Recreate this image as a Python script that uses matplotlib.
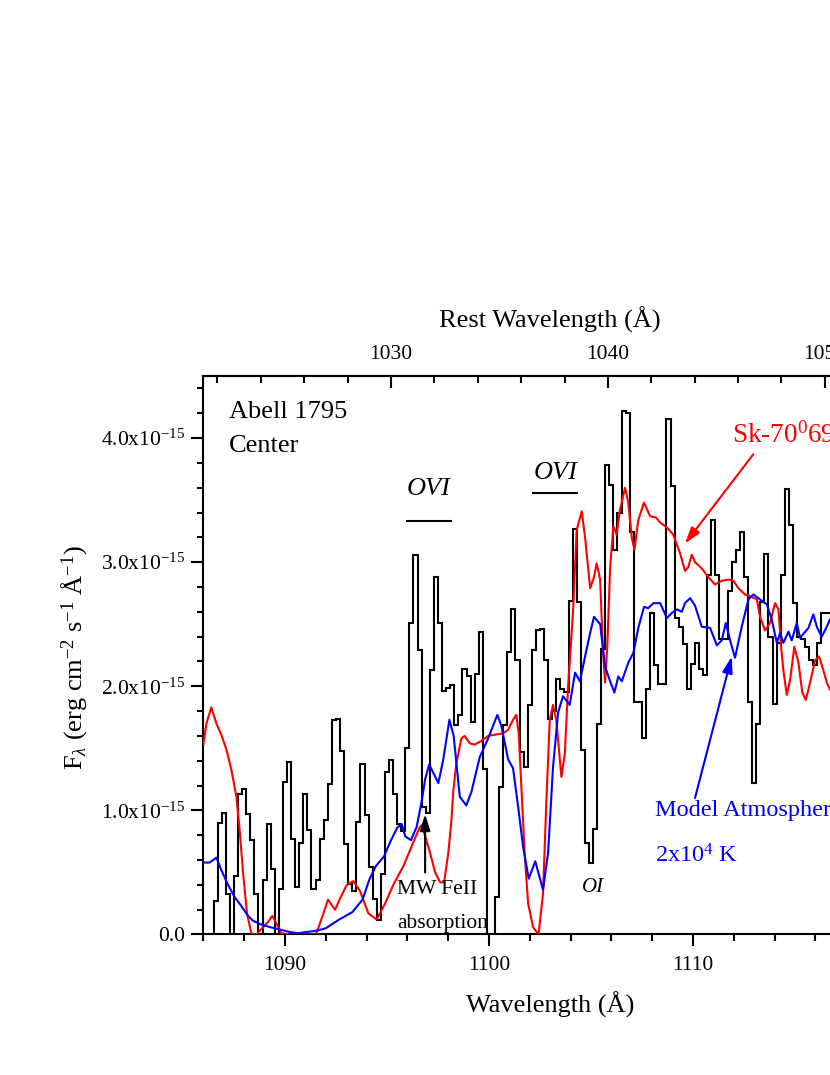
import numpy as np
import matplotlib
matplotlib.use("Agg")
import matplotlib.pyplot as plt
from matplotlib.ticker import MultipleLocator, FuncFormatter

plt.rcParams['font.family'] = ['Liberation Serif', 'DejaVu Serif']
plt.rcParams['mathtext.fontset'] = 'custom'
plt.rcParams['mathtext.rm'] = 'Liberation Serif'
plt.rcParams['mathtext.it'] = 'Liberation Serif:italic'
plt.rcParams['mathtext.bf'] = 'Liberation Serif:bold'

''' Data (flux in units of 1e-15 erg/cm2/s/A) '''
z = 0.0633

# observed FUSE spectrum, 0.2 A bins starting at 1086.1 A
bin_start = 1086.1
bin_width = 0.2
hist_flux = [
    0.00, 0.00, 0.27, 0.90, 0.98, 0.33, 0.00, 0.47, 1.13, 1.17,
    0.97, 0.76, 0.33, 0.00, 0.44, 0.89, 0.53, 0.00, 0.37, 1.23,
    1.39, 0.77, 0.38, 0.74, 1.13, 0.84, 0.37, 0.44, 0.77, 0.92,
    1.21, 1.73, 1.74, 1.48, 0.73, 0.41, 0.35, 0.91, 1.37, 0.96,
    0.54, 0.29, 0.12, 0.49, 1.31, 1.41, 1.13, 0.89, 0.83, 1.50,
    2.51, 3.06, 2.29, 1.03, 0.98, 2.13, 2.88, 2.51, 1.96, 1.99,
    2.01, 1.69, 1.77, 2.14, 2.08, 1.71, 2.10, 2.44, 1.33, 0.00,
    0.00, 0.30, 1.19, 1.69, 2.28, 2.62, 2.21, 1.47, 1.35, 1.85,
    2.29, 2.45, 2.46, 2.21, 1.74, 1.80, 2.06, 1.98, 1.95, 2.69,
    3.27, 2.68, 1.49, 0.74, 0.58, 0.85, 1.70, 2.30, 3.78, 3.62,
    3.10, 3.40, 4.22, 4.20, 3.24, 1.87, 1.87, 1.58, 1.98, 2.59,
    2.17, 2.02, 2.02, 4.15, 3.61, 2.55, 2.48, 2.34, 1.98, 2.18,
    2.35, 2.14, 2.09, 2.90, 3.34, 2.90, 2.38, 2.38, 2.77, 3.00,
    3.10, 3.24, 2.88, 1.87, 1.22, 1.70, 2.68, 3.07, 2.40, 1.86,
    2.35, 2.90, 3.59, 3.30, 2.67, 2.40, 2.38, 2.32, 2.21, 2.17,
    2.35, 2.59, 2.59,
]

# model atmosphere, 2x10^4 K
model_wave = [
    1086.00, 1086.31, 1086.64, 1086.88, 1087.21, 1087.54, 1087.86, 1088.19, 1088.44, 1088.84,
    1089.25, 1089.75, 1090.24, 1090.64, 1091.05, 1091.54, 1092.00, 1092.65, 1093.30, 1093.80,
    1094.13, 1094.45, 1094.86, 1095.20, 1095.50, 1095.72, 1095.90, 1096.18, 1096.46, 1096.71,
    1096.87, 1097.07, 1097.28, 1097.52, 1097.76, 1098.06, 1098.27, 1098.57, 1098.89, 1099.14,
    1099.55, 1099.96, 1100.41, 1100.61, 1100.94, 1101.18, 1101.43, 1101.67, 1101.95, 1102.27,
    1102.65, 1102.90, 1103.14, 1103.39, 1103.63, 1103.96, 1104.22, 1104.46, 1104.71, 1104.96,
    1105.15, 1105.45, 1105.69, 1105.94, 1106.15, 1106.34, 1106.51, 1106.83, 1107.08, 1107.32,
    1107.60, 1107.81, 1108.06, 1108.39, 1108.72, 1108.96, 1109.21, 1109.45, 1109.61, 1109.86,
    1110.10, 1110.43, 1110.84, 1111.17, 1111.41, 1111.61, 1111.82, 1112.06, 1112.39, 1112.72,
    1112.96, 1113.29, 1113.62, 1113.86, 1114.11, 1114.27, 1114.43, 1114.68, 1114.84, 1115.09,
    1115.25, 1115.45, 1115.66, 1115.90, 1116.07, 1116.31, 1116.56, 1116.72, 1117.00,
]
model_flux = [
    0.58, 0.58, 0.62, 0.52, 0.40, 0.30, 0.23, 0.15, 0.11, 0.08,
    0.06, 0.04, 0.02, 0.01, 0.02, 0.03, 0.05, 0.12, 0.18, 0.28,
    0.44, 0.55, 0.63, 0.76, 0.86, 0.89, 0.79, 0.76, 0.87, 1.08,
    1.25, 1.37, 1.30, 1.22, 1.41, 1.73, 1.60, 1.11, 1.04, 1.15,
    1.43, 1.58, 1.77, 1.68, 1.41, 1.34, 1.03, 0.71, 0.45, 0.59,
    0.36, 0.66, 1.35, 1.79, 1.92, 1.85, 2.11, 2.04, 2.24, 2.43,
    2.56, 2.50, 2.16, 2.04, 1.95, 2.08, 2.04, 2.19, 2.27, 2.47,
    2.64, 2.63, 2.67, 2.67, 2.55, 2.59, 2.62, 2.60, 2.67, 2.71,
    2.65, 2.48, 2.47, 2.33, 2.37, 2.51, 2.37, 2.23, 2.48, 2.70,
    2.74, 2.70, 2.66, 2.54, 2.35, 2.43, 2.35, 2.44, 2.37, 2.51,
    2.39, 2.43, 2.47, 2.58, 2.48, 2.40, 2.48, 2.54, 2.55,
]

# Sk-70 69 template star
star_wave = [
    1086.00, 1086.15, 1086.39, 1086.64, 1086.88, 1087.13, 1087.37, 1087.62, 1087.78, 1087.95,
    1088.14, 1088.35, 1088.60, 1088.93, 1089.17, 1089.38, 1089.61, 1089.82, 1090.25, 1091.52,
    1091.78, 1092.11, 1092.46, 1092.70, 1093.03, 1093.35, 1093.68, 1094.09, 1094.50, 1094.91,
    1095.31, 1095.80, 1096.29, 1096.62, 1096.71, 1097.11, 1097.36, 1097.61, 1097.80, 1098.01,
    1098.16, 1098.25, 1098.40, 1098.65, 1098.81, 1099.06, 1099.30, 1099.63, 1099.96, 1100.28,
    1100.69, 1100.94, 1101.18, 1101.34, 1101.46, 1101.59, 1101.75, 1101.92, 1102.16, 1102.43,
    1102.65, 1102.81, 1102.98, 1103.14, 1103.30, 1103.55, 1103.72, 1103.88, 1104.12, 1104.30,
    1104.55, 1104.71, 1104.96, 1105.15, 1105.28, 1105.45, 1105.58, 1105.69, 1105.80, 1105.94,
    1106.10, 1106.26, 1106.42, 1106.67, 1106.83, 1107.00, 1107.13, 1107.32, 1107.60, 1107.90,
    1108.19, 1108.39, 1108.72, 1109.04, 1109.37, 1109.61, 1109.77, 1109.94, 1110.10, 1110.43,
    1110.75, 1111.08, 1111.41, 1111.74, 1111.98, 1112.23, 1112.55, 1112.88, 1113.13, 1113.29,
    1113.53, 1113.78, 1114.02, 1114.19, 1114.32, 1114.43, 1114.60, 1114.76, 1114.97, 1115.17,
    1115.36, 1115.53, 1115.74, 1115.99, 1116.18, 1116.39, 1116.56, 1116.72, 1117.00,
]
star_flux = [
    1.53, 1.70, 1.83, 1.70, 1.61, 1.49, 1.33, 1.11, 0.84, 0.49,
    0.17, 0.01, 0.00, 0.06, 0.10, 0.15, 0.08, 0.01, 0.00, 0.00,
    0.12, 0.28, 0.20, 0.29, 0.40, 0.43, 0.35, 0.17, 0.12, 0.25,
    0.40, 0.55, 0.74, 0.87, 0.88, 0.66, 0.50, 0.42, 0.42, 0.66,
    0.92, 1.15, 1.38, 1.58, 1.60, 1.54, 1.53, 1.56, 1.60, 1.61,
    1.62, 1.65, 1.73, 1.77, 1.62, 1.19, 0.65, 0.25, 0.06, 0.00,
    0.33, 1.06, 1.73, 1.85, 1.73, 1.27, 1.46, 2.00, 2.60, 3.26,
    3.41, 3.20, 2.79, 2.88, 2.99, 2.86, 2.32, 2.03, 2.32, 2.96,
    3.29, 3.22, 3.42, 3.60, 3.48, 3.20, 3.10, 3.34, 3.48, 3.37,
    3.36, 3.32, 3.28, 3.22, 3.07, 2.93, 2.96, 3.06, 3.00, 2.95,
    2.88, 2.82, 2.85, 2.86, 2.85, 2.79, 2.74, 2.72, 2.70, 2.56,
    2.45, 2.51, 2.67, 2.62, 2.32, 2.13, 1.93, 2.05, 2.32, 2.19,
    1.95, 1.89, 2.03, 2.21, 2.24, 2.13, 2.03, 1.97, 1.95,
]

scale = 1e-15
hist_flux = np.array(hist_flux) * scale
hist_edges = bin_start + bin_width * np.arange(len(hist_flux) + 1)
model_flux = np.array(model_flux) * scale
star_flux = np.array(star_flux) * scale


''' Plot '''
fig = plt.figure(figsize=(8.3, 10.75), dpi=100)
# axes run off the right side of the page, as in the original figure
ax = fig.add_axes([0.245, 0.1307, 0.8357, 0.5195])

ax.stairs(hist_flux, hist_edges, baseline=None, color='black', lw=1.5, zorder=2)
ax.plot(star_wave, star_flux, color='red', lw=1.5, zorder=3)
ax.plot(model_wave, model_flux, color='blue', lw=1.5, zorder=4)

ax.set_xlim(1086, 1120)
ax.set_ylim(0, 4.5e-15)

# Axis ticks
ax.xaxis.set_major_locator(MultipleLocator(10))
ax.xaxis.set_minor_locator(MultipleLocator(2))
ax.yaxis.set_major_locator(MultipleLocator(1e-15))
ax.yaxis.set_minor_locator(MultipleLocator(0.2e-15))

def flux_label(v, pos):
    if abs(v) < 1e-20:
        return '0.0'
    return '{:.1f}x10$^{{\\mathregular{{-15}}}}$'.format(v / scale)

ax.yaxis.set_major_formatter(FuncFormatter(flux_label))
ax.tick_params(axis='x', which='major', direction='out', length=8.5, width=1.5,
               labelsize=15.5, pad=7, top=False)
ax.tick_params(axis='x', which='minor', direction='out', length=5, width=1.5, top=False)
ax.tick_params(axis='y', which='major', direction='out', length=9, width=1.5,
               labelsize=15.5, pad=4, right=False)
ax.tick_params(axis='y', which='minor', direction='out', length=4.5, width=1.5, right=False)
for s in ax.spines.values():
    s.set_linewidth(1.5)

# Rest-frame axis on top
secax = ax.secondary_xaxis('top', functions=(lambda w: w / (1 + z), lambda r: r * (1 + z)))
secax.xaxis.set_major_locator(MultipleLocator(10))
secax.xaxis.set_minor_locator(MultipleLocator(2))
secax.tick_params(which='major', direction='in', length=8.5, width=1.5, labelsize=15.5, pad=9)
secax.tick_params(which='minor', direction='in', length=5, width=1.5)
secax.spines['top'].set_linewidth(1.5)

# Axis titles
fig.text(550 / 830, 1 - 1005 / 1075, 'Wavelength (Å)', fontsize=19, ha='center', va='center')
fig.text(550 / 830, 1 - 320 / 1075, 'Rest Wavelength (Å)', fontsize=19, ha='center', va='center')
fig.text(75 / 830, 1 - 658 / 1075,
         r'F$_{\lambda}$ (erg cm$^{\mathregular{-2}}$ s$^{\mathregular{-1}}$ Å$^{\mathregular{-1}}$)',
         fontsize=19, rotation=90, ha='center', va='center')

# Annotations
ax.text(1087.26, 4.21e-15, 'Abell 1795', fontsize=19, ha='left', va='center')
ax.text(1087.26, 3.94e-15, 'Center', fontsize=19, ha='left', va='center')

ax.text(1097.06, 3.59e-15, 'OVI', fontsize=19, style='italic', ha='center', va='center')
ax.plot([1095.99, 1098.14], [3.33e-15, 3.33e-15], color='black', lw=1.5)
ax.text(1103.25, 3.72e-15, 'OVI', fontsize=19, style='italic', ha='center', va='center')
ax.plot([1102.17, 1104.33], [3.56e-15, 3.56e-15], color='black', lw=1.5)
ax.text(1105.08, 0.375e-15, 'OI', fontsize=15, style='italic', ha='center', va='center')

ax.text(1095.48, 0.36e-15, 'MW FeII', fontsize=15.5, ha='left', va='center')
ax.text(1095.48, 0.09e-15, 'absorption', fontsize=15.5, ha='left', va='center')
ax.annotate('', xy=(1096.87, 0.97e-15), xytext=(1096.87, 0.50e-15),
            arrowprops=dict(arrowstyle='-|>,head_length=0.7,head_width=0.22', color='black',
                            lw=1.5, mutation_scale=14, shrinkA=0, shrinkB=0))

ax.text(1111.9, 4.02e-15, r'Sk-70$^{\mathregular{0}}$69', fontsize=19.5, color='red',
        ha='left', va='center')
ax.annotate('', xy=(1109.61, 3.15e-15), xytext=(1112.96, 3.87e-15),
            arrowprops=dict(arrowstyle='-|>,head_length=0.7,head_width=0.22', color='red',
                            lw=1.5, mutation_scale=14, shrinkA=0, shrinkB=0))

ax.text(1108.14, 1.00e-15, 'Model Atmosphere', fontsize=17.5, color='blue', ha='left', va='center')
ax.text(1108.14, 0.63e-15, r'2x10$^{\mathregular{4}}$ K', fontsize=17.5, color='blue',
        ha='left', va='center')
ax.annotate('', xy=(1111.90, 2.24e-15), xytext=(1110.10, 1.10e-15),
            arrowprops=dict(arrowstyle='-|>,head_length=0.7,head_width=0.22', color='blue',
                            lw=1.5, mutation_scale=14, shrinkA=0, shrinkB=0))

fig.savefig('out.png', dpi=100)
